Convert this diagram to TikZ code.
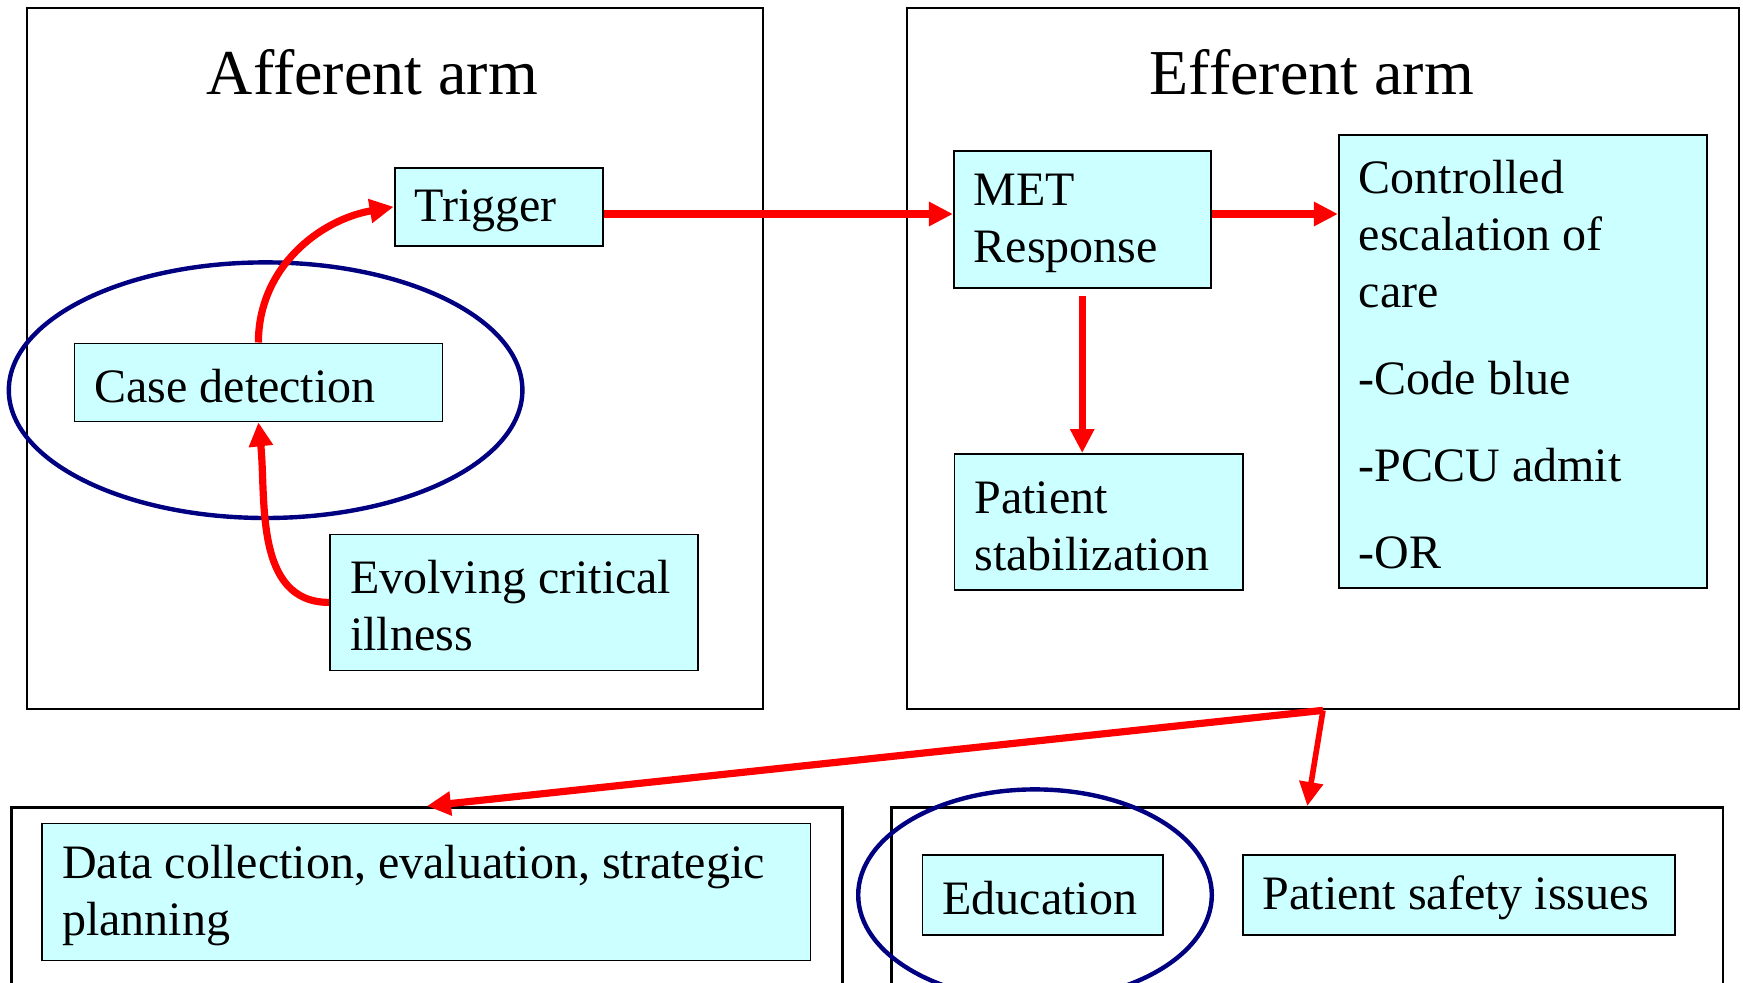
\documentclass[tikz,border=0pt]{standalone}
\usepackage{fontspec}
\setmainfont{Liberation Serif}
\usepackage{xcolor}
\usepackage{tikz}
\usetikzlibrary{arrows.meta,positioning,calc}
\definecolor{CellCyan}{HTML}{CCFFFF}
\definecolor{RingNavy}{HTML}{000080}
\definecolor{FlowRed}{HTML}{FF0000}
\newcommand\cellfont{\fontsize{24pt}{28.5pt}\selectfont}
\newcommand\headfont{\fontsize{32pt}{38pt}\selectfont}
\tikzset{
  arm/.style={draw=black,line width=1.35pt,inner sep=0pt},
  cell/.style={draw=black,line width=0.9pt,fill=CellCyan,inner xsep=10pt,inner ysep=0pt,align=left,font=\cellfont,
    execute at begin node={\spaceskip=0pt\xspaceskip=0pt\hyphenpenalty=10000\rule{0pt}{20pt}}},
  heading/.style={font=\headfont,anchor=base,inner sep=0pt},
  flow/.style={draw=FlowRed,line width=3.6pt,-{Triangle[length=12pt,width=11.5pt]}},
  ring/.style={draw=RingNavy,line width=2.2pt}
}
\begin{document}
\begin{tikzpicture}[x=1pt,y=1pt]
  \useasboundingbox (0,0) rectangle (871.5,491);
  \clip (0,0) rectangle (871.5,491);
  % the two arms
  \node[arm,minimum width=368pt,minimum height=350.5pt] (aff) at (197.5,311.75) {};
  \node[arm,minimum width=416pt,minimum height=350.5pt] (eff) at (661.5,311.75) {};
  \node[heading] (afftitle) at (186.2,443.5) {Afferent arm};
  \node[heading] (efftitle) at (655.9,443.5) {Efferent arm};
  % afferent side
  \node[cell,minimum width=104pt,minimum height=39pt,text width=84pt] (trig) at (249.3,387.6) {Trigger};
  \node[cell,minimum width=184pt,minimum height=39pt,text width=164pt] (case) at (129.2,299.8) {Case detection};
  \node[cell,minimum width=184pt,minimum height=68pt,text width=164pt] (evol) at (257,189.8) {Evolving critical\\illness};
  \draw[ring] (132.8,295.9) ellipse [x radius=128.4pt,y radius=63.9pt];
  % efferent side
  \node[cell,minimum width=128.4pt,minimum height=68.4pt,text width=108.4pt] (met) at (541.1,381.2) {MET\\Response};
  \node[cell,minimum width=184pt,minimum height=226.4pt,text width=164pt] (esc) at (761.4,310.3)
    {Controlled\\escalation of\\care\\[15pt]-Code blue\\[15pt]-PCCU admit\\[15pt]-OR};
  \node[cell,minimum width=144.2pt,minimum height=68.1pt,text width=124.2pt] (stab) at (549.3,230) {Patient\\stabilization};
  % lower row
  \node[arm,minimum width=415.7pt,minimum height=147.3pt] (lowl) at (213.45,13.65) {};
  \node[arm,minimum width=415.7pt,minimum height=147.3pt] (lowr) at (653.65,13.65) {};
  \node[cell,minimum width=384.1pt,minimum height=68.5pt,text width=364.1pt] (data) at (213.2,45.05) {Data collection, evaluation, strategic\\planning};
  \node[cell,minimum width=120.1pt,minimum height=40pt,text width=100.1pt] (edu) at (521.3,43.5) {Education};
  \node[cell,minimum width=216.2pt,minimum height=40pt,text width=196.2pt] (safe) at (729.5,43.5) {Patient safety issues};
  \draw[ring] (517.5,43.5) ellipse [x radius=88.4pt,y radius=52.8pt];
  % arrows
  \draw[flow] (case.north) to[out=90,in=190] (trig.west);
  \draw[flow] (evol.west) to[out=180,in=-84] (case.south);
  \draw[flow] ([yshift=-3.6pt]trig.east) -- ([yshift=-3.6pt]trig.east -| met.west);
  \draw[flow] ([yshift=2.8pt]met.east) -- ([yshift=2.8pt]met.east -| esc.west);
  \draw[flow] ([yshift=-3.5pt]met.south) -- (met.south |- stab.north);
  \draw[flow] (eff.south) -- (lowl.north);
  \draw[flow,line width=2.8pt] (eff.south) -- (lowr.north);
\end{tikzpicture}
\end{document}
